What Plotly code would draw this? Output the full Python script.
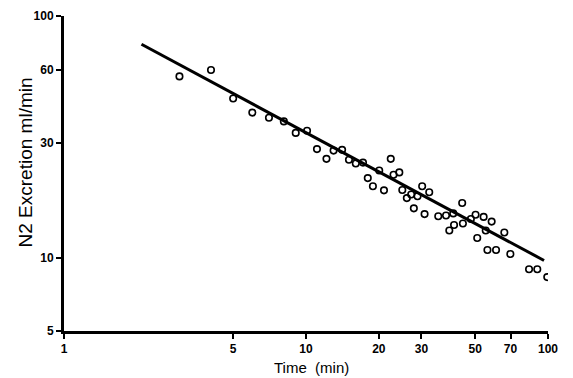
import math
import plotly.graph_objects as go

# Scatter data (time in min, N2 excretion ml/min)
time_min = [3.0, 4.05, 5.0, 6.0, 7.03, 8.1, 9.07, 10.1, 11.1, 12.15,
            13.0, 14.1, 15.05, 16.06, 17.2, 20.07, 18.0, 18.9, 21.0, 22.4,
            23.0, 24.3, 25.0, 26.1, 27.2, 28.9, 27.9, 30.2, 32.3, 30.9,
            35.2, 37.9, 40.6, 44.2, 40.9, 39.1, 44.5, 48.0, 50.2, 54.2,
            58.5, 55.3, 51.0, 66.0, 56.2, 61.0, 69.9, 83.5, 90.3, 99.3]
n2_excretion = [56.3, 59.8, 45.6, 39.9, 38.0, 36.7, 32.9, 33.6, 28.2, 25.7,
                27.8, 28.0, 25.5, 24.6, 24.8, 23.0, 21.4, 19.8, 19.05, 25.7,
                22.1, 22.6, 19.1, 17.7, 18.3, 18.0, 16.05, 19.8, 18.7, 15.2,
                14.9, 15.0, 15.3, 16.9, 13.7, 13.0, 13.9, 14.5, 15.1, 14.8,
                14.15, 13.0, 12.1, 12.75, 10.8, 10.8, 10.4, 9.0, 9.0, 8.35]

# Regression line endpoints
fit_time = [2.09, 96.3]
fit_n2 = [76.4, 9.78]

x_tickvals = [1, 5, 10, 20, 30, 50, 70, 100]
y_tickvals = [5, 10, 30, 60, 100]

x_title = "Time  (min)"
y_title = "N2 Excretion ml/min"

fig = go.Figure()
fig.add_trace(go.Scatter(x=fit_time, y=fit_n2, mode="lines",
                         line=dict(color="black", width=3), showlegend=False))
fig.add_trace(go.Scatter(x=time_min, y=n2_excretion, mode="markers",
                         marker=dict(symbol="circle-open", size=6.5, color="black",
                                     line=dict(width=1.6, color="black")),
                         showlegend=False))

font_family = "Liberation Sans, Arial, sans-serif"
tickfont = dict(family=font_family, size=12, color="black", weight="bold")

# page body has an 8px margin, so the figure is shrunk and shifted accordingly
fig.update_layout(
    width=565, height=370,
    margin=dict(l=56, r=25, t=8, b=47),
    paper_bgcolor="white", plot_bgcolor="white",
    xaxis=dict(type="log", range=[0, 2], tickvals=x_tickvals,
               ticktext=[str(v) for v in x_tickvals], automargin=False,
               showgrid=False, zeroline=False, showline=True, linecolor="black",
               linewidth=3, ticks="outside", ticklen=5, tickwidth=1.5, tickcolor="black",
               tickfont=tickfont),
    yaxis=dict(type="log", range=[math.log10(5), 2], tickvals=y_tickvals,
               ticktext=[str(v) for v in y_tickvals], automargin=False,
               showgrid=False, zeroline=False, showline=True, linecolor="black",
               linewidth=3, ticks="outside", ticklen=5, tickwidth=1.5, tickcolor="black",
               tickfont=tickfont),
    annotations=[
        dict(text=x_title, xref="paper", yref="paper", x=0.511, y=-0.116,
             xanchor="center", yanchor="middle", showarrow=False,
             font=dict(family=font_family, size=15, color="black")),
        dict(text=y_title, xref="paper", yref="paper", x=-0.0806, y=0.535,
             xanchor="center", yanchor="middle", showarrow=False, textangle=-90,
             font=dict(family=font_family, size=19, color="black")),
    ],
)

fig.write_html("out.html")
